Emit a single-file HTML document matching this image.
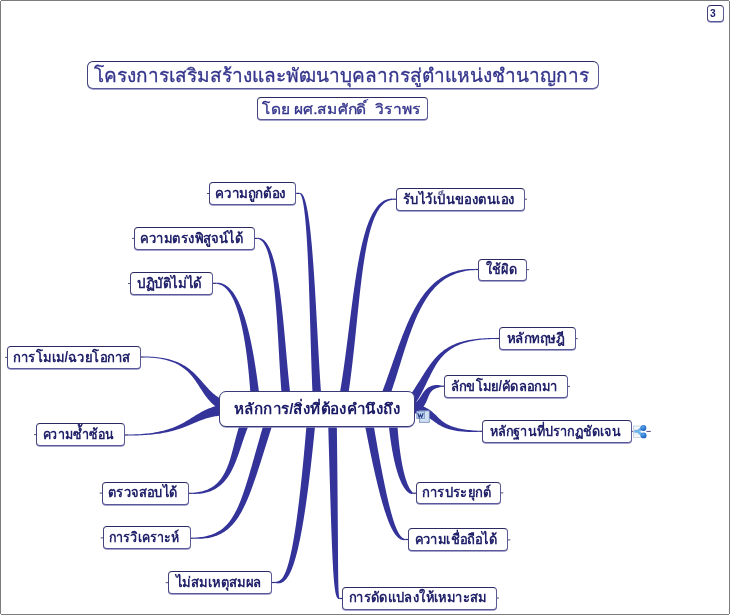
<!DOCTYPE html>
<html><head><meta charset="utf-8"><style>
html,body{margin:0;padding:0;background:#fff;}
body{width:730px;height:615px;position:relative;overflow:hidden;font-family:"Liberation Sans",sans-serif;}
.fr{position:absolute;background:#7c7c7c;}
svg{position:absolute;left:0;top:0;}
.n,.c,.h,.s,.k{position:absolute;box-sizing:border-box;background:#fff;border:1px solid #43437a;border-top-color:#2a2a60;border-right-color:#5a5a92;border-bottom-color:#58589a;border-radius:4px;box-shadow:0 0.7px 0 #8888bb;}
.c{border-radius:7px;border-color:#3a3a7a;}
.h{border-radius:6px;}
.tx text{font-family:"Liberation Sans",sans-serif;white-space:pre;}
</style></head><body>
<div class="fr" style="left:1px;top:0;width:728px;height:1px"></div><div class="fr" style="left:0;top:1px;width:1px;height:613px"></div><div class="fr" style="left:729px;top:1px;width:1px;height:613px"></div><div class="fr" style="left:1px;top:614px;width:728px;height:1px"></div>
<svg width="730" height="615" viewBox="0 0 730 615">
<g fill="#333399"><path d="M216.48,283.80 L217.63,283.96 L218.73,284.19 L219.78,284.50 L220.81,284.89 L221.80,285.37 L222.77,285.93 L223.71,286.56 L224.63,287.28 L225.53,288.06 L226.41,288.93 L227.26,289.87 L228.10,290.88 L228.92,291.96 L229.72,293.11 L230.50,294.33 L231.26,295.61 L232.00,296.96 L232.73,298.36 L233.44,299.83 L234.13,301.35 L234.80,302.93 L235.45,304.56 L236.09,306.24 L236.71,307.96 L237.31,309.74 L237.90,311.55 L238.47,313.40 L239.02,315.30 L239.56,317.23 L240.08,319.19 L240.58,321.18 L241.07,323.20 L241.55,325.25 L242.00,327.32 L242.45,329.41 L242.88,331.52 L243.29,333.65 L243.69,335.79 L244.08,337.95 L244.45,340.11 L244.82,342.28 L245.16,344.45 L245.50,346.63 L245.82,348.81 L246.13,350.98 L246.43,353.15 L246.71,355.32 L246.99,357.47 L247.25,359.61 L247.51,361.74 L247.75,363.85 L247.98,365.94 L248.20,368.01 L248.41,370.05 L248.62,372.07 L248.81,374.06 L249.00,376.02 L249.17,377.95 L249.34,379.84 L249.50,381.69 L249.65,383.50 L249.80,385.27 L249.94,387.00 L250.07,388.68 L250.19,390.31 L250.33,391.88 L250.46,393.40 L250.58,394.87 L250.70,396.28 L250.81,397.62 L250.92,398.91 L251.03,400.13 L251.13,401.28 L251.22,402.37 L251.32,403.39 L251.41,404.34 L251.50,405.22 L251.58,406.04 L251.67,406.74 L260.92,405.26 L260.78,404.62 L260.65,403.93 L260.51,403.14 L260.37,402.26 L260.22,401.30 L260.07,400.25 L259.91,399.13 L259.75,397.94 L259.58,396.68 L259.40,395.35 L259.22,393.95 L259.04,392.50 L258.85,390.98 L258.65,389.41 L258.43,387.78 L258.20,386.11 L257.96,384.38 L257.72,382.61 L257.47,380.80 L257.20,378.94 L256.94,377.04 L256.66,375.11 L256.37,373.14 L256.08,371.14 L255.77,369.12 L255.45,367.06 L255.13,364.98 L254.79,362.88 L254.44,360.76 L254.09,358.62 L253.72,356.46 L253.34,354.29 L252.94,352.12 L252.54,349.93 L252.12,347.74 L251.69,345.55 L251.24,343.35 L250.79,341.16 L250.32,338.97 L249.83,336.79 L249.33,334.62 L248.82,332.45 L248.29,330.30 L247.74,328.17 L247.18,326.06 L246.61,323.96 L246.01,321.89 L245.40,319.85 L244.78,317.83 L244.13,315.85 L243.47,313.89 L242.80,311.97 L242.10,310.09 L241.38,308.25 L240.65,306.45 L239.89,304.69 L239.12,302.99 L238.33,301.33 L237.51,299.72 L236.68,298.17 L235.82,296.68 L234.94,295.24 L234.04,293.87 L233.11,292.56 L232.17,291.32 L231.19,290.15 L230.20,289.05 L229.18,288.03 L228.14,287.08 L227.07,286.22 L225.97,285.45 L224.86,284.77 L223.72,284.18 L222.56,283.68 L221.38,283.29 L220.18,283.00 L218.96,282.82 L217.74,282.74 L216.52,282.80Z"/><path d="M257.57,238.90 L258.37,239.05 L259.11,239.26 L259.81,239.56 L260.48,239.93 L261.13,240.39 L261.76,240.93 L262.38,241.55 L262.99,242.26 L263.57,243.05 L264.15,243.92 L264.71,244.88 L265.26,245.92 L265.80,247.04 L266.32,248.24 L266.82,249.51 L267.32,250.87 L267.80,252.29 L268.26,253.79 L268.71,255.36 L269.15,256.99 L269.58,258.69 L269.99,260.46 L270.39,262.29 L270.78,264.18 L271.15,266.13 L271.51,268.13 L271.86,270.19 L272.20,272.30 L272.53,274.47 L272.85,276.68 L273.16,278.94 L273.45,281.25 L273.74,283.60 L274.02,285.99 L274.29,288.42 L274.55,290.89 L274.80,293.39 L275.05,295.93 L275.29,298.51 L275.52,301.11 L275.74,303.74 L275.96,306.40 L276.17,309.08 L276.37,311.78 L276.57,314.51 L276.77,317.26 L276.96,320.02 L277.14,322.80 L277.32,325.59 L277.50,328.39 L277.67,331.21 L277.85,334.03 L278.01,336.86 L278.18,339.69 L278.35,342.52 L278.51,345.36 L278.67,348.19 L278.84,351.02 L279.00,353.85 L279.16,356.67 L279.32,359.48 L279.48,362.28 L279.65,365.07 L279.81,367.85 L279.98,370.60 L280.15,373.34 L280.32,376.07 L280.50,378.77 L280.68,381.44 L280.86,384.09 L281.05,386.72 L281.24,389.32 L281.45,391.88 L281.67,394.41 L281.89,396.91 L282.12,399.38 L282.36,401.80 L282.60,404.19 L282.85,406.52 L291.66,405.48 L291.36,403.17 L291.06,400.83 L290.78,398.45 L290.49,396.03 L290.22,393.57 L289.95,391.07 L289.68,388.54 L289.40,385.97 L289.12,383.38 L288.85,380.75 L288.59,378.10 L288.32,375.42 L288.06,372.72 L287.81,370.00 L287.55,367.25 L287.29,364.49 L287.04,361.72 L286.79,358.93 L286.54,356.13 L286.28,353.32 L286.03,350.50 L285.78,347.67 L285.52,344.84 L285.27,342.01 L285.01,339.18 L284.75,336.35 L284.49,333.52 L284.23,330.70 L283.96,327.88 L283.69,325.07 L283.41,322.28 L283.13,319.50 L282.85,316.73 L282.56,313.98 L282.26,311.24 L281.96,308.53 L281.65,305.84 L281.34,303.17 L281.02,300.53 L280.69,297.92 L280.35,295.33 L280.01,292.78 L279.66,290.26 L279.30,287.78 L278.92,285.33 L278.54,282.92 L278.15,280.56 L277.75,278.23 L277.34,275.95 L276.92,273.72 L276.48,271.53 L276.03,269.40 L275.57,267.31 L275.10,265.28 L274.61,263.31 L274.11,261.39 L273.60,259.54 L273.07,257.74 L272.53,256.01 L271.97,254.34 L271.39,252.74 L270.80,251.20 L270.18,249.74 L269.56,248.35 L268.91,247.03 L268.24,245.79 L267.55,244.63 L266.84,243.55 L266.11,242.55 L265.36,241.64 L264.58,240.81 L263.78,240.08 L262.95,239.44 L262.10,238.91 L261.23,238.47 L260.34,238.15 L259.43,237.95 L258.52,237.86 L257.63,237.90Z"/><path d="M299.64,193.80 L299.99,193.97 L300.25,194.20 L300.52,194.52 L300.81,194.97 L301.11,195.54 L301.41,196.24 L301.71,197.07 L302.01,198.02 L302.30,199.10 L302.59,200.29 L302.88,201.60 L303.16,203.02 L303.43,204.55 L303.69,206.18 L303.95,207.92 L304.21,209.76 L304.45,211.70 L304.69,213.73 L304.93,215.85 L305.16,218.06 L305.38,220.36 L305.59,222.74 L305.80,225.20 L306.01,227.74 L306.21,230.35 L306.40,233.04 L306.59,235.79 L306.77,238.62 L306.95,241.50 L307.12,244.45 L307.29,247.45 L307.45,250.51 L307.61,253.62 L307.77,256.79 L307.92,260.00 L308.07,263.25 L308.21,266.55 L308.35,269.88 L308.49,273.25 L308.62,276.66 L308.75,280.09 L308.88,283.56 L309.00,287.05 L309.12,290.56 L309.24,294.09 L309.36,297.64 L309.48,301.20 L309.59,304.77 L309.70,308.35 L309.82,311.94 L309.93,315.53 L310.03,319.13 L310.14,322.72 L310.25,326.30 L310.35,329.88 L310.46,333.44 L310.56,337.00 L310.67,340.54 L310.77,344.05 L310.88,347.55 L310.98,351.03 L311.09,354.47 L311.20,357.89 L311.31,361.27 L311.41,364.62 L311.52,367.93 L311.64,371.21 L311.75,374.43 L311.86,377.62 L311.98,380.75 L312.10,383.83 L312.22,386.86 L312.35,389.83 L312.48,392.75 L312.63,395.60 L312.77,398.38 L312.92,401.10 L313.08,403.75 L313.23,406.31 L322.01,405.69 L321.80,403.14 L321.60,400.52 L321.39,397.83 L321.19,395.07 L321.00,392.24 L320.79,389.35 L320.59,386.40 L320.38,383.39 L320.18,380.33 L319.98,377.21 L319.78,374.04 L319.58,370.83 L319.38,367.57 L319.19,364.27 L318.99,360.93 L318.80,357.55 L318.61,354.14 L318.41,350.70 L318.22,347.24 L318.03,343.75 L317.84,340.23 L317.64,336.70 L317.45,333.15 L317.26,329.59 L317.06,326.01 L316.86,322.43 L316.67,318.84 L316.47,315.25 L316.27,311.66 L316.07,308.08 L315.86,304.49 L315.66,300.92 L315.45,297.36 L315.24,293.81 L315.03,290.28 L314.81,286.76 L314.59,283.27 L314.37,279.81 L314.15,276.37 L313.92,272.96 L313.69,269.59 L313.45,266.25 L313.21,262.95 L312.96,259.69 L312.71,256.47 L312.46,253.30 L312.20,250.19 L311.94,247.12 L311.67,244.11 L311.39,241.16 L311.11,238.26 L310.83,235.43 L310.54,232.67 L310.24,229.98 L309.93,227.35 L309.62,224.80 L309.31,222.33 L308.98,219.94 L308.65,217.63 L308.31,215.41 L307.96,213.27 L307.61,211.22 L307.24,209.27 L306.87,207.41 L306.49,205.65 L306.10,203.99 L305.70,202.44 L305.29,200.99 L304.87,199.65 L304.43,198.42 L303.99,197.31 L303.53,196.31 L303.05,195.42 L302.56,194.66 L302.04,194.03 L301.50,193.52 L300.91,193.16 L300.30,192.97 L299.76,193.00Z"/><path d="M392.98,198.70 L391.60,198.61 L390.21,198.68 L388.85,198.88 L387.50,199.20 L386.19,199.64 L384.90,200.20 L383.65,200.87 L382.42,201.65 L381.23,202.53 L380.07,203.52 L378.94,204.60 L377.85,205.78 L376.79,207.06 L375.75,208.42 L374.75,209.88 L373.78,211.42 L372.84,213.04 L371.92,214.75 L371.04,216.54 L370.17,218.40 L369.33,220.34 L368.52,222.36 L367.73,224.45 L366.96,226.61 L366.21,228.84 L365.49,231.13 L364.78,233.50 L364.09,235.92 L363.42,238.41 L362.77,240.96 L362.13,243.57 L361.51,246.24 L360.91,248.96 L360.32,251.74 L359.74,254.57 L359.18,257.45 L358.63,260.38 L358.09,263.36 L357.56,266.38 L357.04,269.45 L356.53,272.56 L356.04,275.71 L355.55,278.90 L355.06,282.12 L354.59,285.38 L354.12,288.68 L353.65,292.01 L353.19,295.37 L352.74,298.75 L352.28,302.17 L351.84,305.61 L351.39,309.07 L350.94,312.55 L350.50,316.06 L350.05,319.58 L349.61,323.12 L349.16,326.68 L348.71,330.25 L348.26,333.83 L347.81,337.42 L347.35,341.02 L346.89,344.62 L346.42,348.23 L345.95,351.85 L345.47,355.46 L344.98,359.08 L344.48,362.69 L343.98,366.30 L343.47,369.90 L342.94,373.49 L342.41,377.08 L341.86,380.65 L341.31,384.22 L340.74,387.76 L340.16,391.30 L339.58,394.81 L338.98,398.31 L338.36,401.78 L337.73,405.25 L346.34,406.75 L346.92,403.25 L347.49,399.73 L348.04,396.18 L348.58,392.61 L349.10,389.03 L349.60,385.44 L350.09,381.83 L350.56,378.22 L351.02,374.59 L351.47,370.96 L351.91,367.33 L352.34,363.69 L352.76,360.05 L353.17,356.41 L353.58,352.77 L353.97,349.14 L354.37,345.51 L354.75,341.88 L355.13,338.27 L355.51,334.66 L355.88,331.07 L356.25,327.49 L356.61,323.92 L356.98,320.38 L357.34,316.85 L357.70,313.34 L358.07,309.85 L358.43,306.38 L358.80,302.94 L359.16,299.53 L359.53,296.15 L359.91,292.79 L360.29,289.47 L360.67,286.18 L361.06,282.93 L361.45,279.71 L361.85,276.53 L362.26,273.40 L362.68,270.30 L363.11,267.25 L363.54,264.24 L363.99,261.29 L364.44,258.38 L364.91,255.52 L365.39,252.71 L365.88,249.96 L366.38,247.26 L366.90,244.62 L367.43,242.04 L367.98,239.52 L368.54,237.06 L369.12,234.67 L369.72,232.34 L370.33,230.08 L370.96,227.89 L371.61,225.78 L372.28,223.73 L372.97,221.76 L373.68,219.86 L374.40,218.05 L375.15,216.31 L375.92,214.65 L376.71,213.07 L377.53,211.58 L378.36,210.17 L379.22,208.85 L380.10,207.62 L381.01,206.47 L381.93,205.42 L382.89,204.45 L383.87,203.57 L384.88,202.78 L385.92,202.07 L387.00,201.46 L388.11,200.94 L389.26,200.50 L390.46,200.16 L391.70,199.90 L393.02,199.70Z"/><path d="M475.19,269.00 L472.89,268.94 L470.63,268.96 L468.42,269.06 L466.25,269.24 L464.12,269.48 L462.03,269.79 L459.99,270.17 L457.99,270.62 L456.03,271.13 L454.10,271.71 L452.22,272.35 L450.38,273.05 L448.57,273.82 L446.80,274.64 L445.07,275.53 L443.38,276.48 L441.72,277.48 L440.10,278.54 L438.51,279.65 L436.96,280.82 L435.44,282.04 L433.96,283.32 L432.51,284.64 L431.09,286.01 L429.70,287.43 L428.34,288.90 L427.01,290.41 L425.71,291.97 L424.44,293.57 L423.20,295.22 L421.98,296.90 L420.79,298.62 L419.62,300.38 L418.48,302.18 L417.36,304.01 L416.26,305.88 L415.18,307.79 L414.12,309.72 L413.09,311.69 L412.07,313.69 L411.06,315.72 L410.08,317.77 L409.11,319.86 L408.16,321.97 L407.21,324.10 L406.29,326.26 L405.37,328.45 L404.47,330.65 L403.57,332.88 L402.69,335.12 L401.81,337.39 L400.94,339.67 L400.08,341.97 L399.23,344.29 L398.38,346.62 L397.53,348.96 L396.69,351.32 L395.84,353.69 L395.01,356.07 L394.17,358.46 L393.33,360.86 L392.49,363.26 L391.65,365.67 L390.80,368.09 L389.95,370.52 L389.10,372.94 L388.24,375.37 L387.37,377.80 L386.50,380.23 L385.62,382.66 L384.73,385.09 L383.84,387.51 L382.93,389.93 L382.03,392.36 L381.11,394.77 L380.18,397.18 L379.24,399.58 L378.28,401.97 L377.30,404.37 L385.53,407.63 L386.47,405.18 L387.39,402.72 L388.31,400.24 L389.20,397.77 L390.08,395.29 L390.95,392.81 L391.79,390.33 L392.62,387.84 L393.44,385.35 L394.24,382.87 L395.04,380.39 L395.82,377.91 L396.60,375.44 L397.38,372.98 L398.14,370.52 L398.90,368.07 L399.66,365.63 L400.42,363.19 L401.17,360.77 L401.92,358.36 L402.67,355.97 L403.42,353.58 L404.17,351.21 L404.92,348.86 L405.68,346.52 L406.44,344.20 L407.20,341.90 L407.97,339.62 L408.75,337.35 L409.53,335.11 L410.32,332.90 L411.12,330.70 L411.93,328.53 L412.75,326.38 L413.59,324.26 L414.43,322.17 L415.29,320.10 L416.16,318.07 L417.05,316.06 L417.95,314.08 L418.87,312.14 L419.80,310.23 L420.76,308.35 L421.73,306.50 L422.72,304.69 L423.73,302.92 L424.77,301.18 L425.83,299.48 L426.91,297.82 L428.01,296.20 L429.14,294.62 L430.30,293.09 L431.48,291.59 L432.69,290.13 L433.93,288.72 L435.20,287.36 L436.50,286.03 L437.83,284.76 L439.19,283.53 L440.59,282.34 L442.02,281.21 L443.49,280.12 L445.00,279.09 L446.55,278.10 L448.13,277.17 L449.76,276.28 L451.43,275.46 L453.14,274.68 L454.90,273.96 L456.70,273.30 L458.56,272.69 L460.46,272.14 L462.41,271.66 L464.41,271.23 L466.46,270.86 L468.56,270.56 L470.72,270.31 L472.93,270.13 L475.21,270.00Z"/><path d="M496.10,338.00 L493.68,338.01 L491.33,338.04 L489.03,338.09 L486.80,338.17 L484.63,338.28 L482.52,338.41 L480.46,338.57 L478.46,338.75 L476.51,338.95 L474.62,339.18 L472.78,339.44 L470.99,339.72 L469.24,340.02 L467.55,340.35 L465.90,340.71 L464.30,341.09 L462.74,341.49 L461.22,341.91 L459.75,342.36 L458.31,342.84 L456.91,343.34 L455.55,343.86 L454.23,344.41 L452.94,344.97 L451.69,345.57 L450.47,346.18 L449.28,346.82 L448.12,347.49 L446.99,348.17 L445.88,348.88 L444.81,349.61 L443.76,350.36 L442.74,351.13 L441.74,351.93 L440.77,352.75 L439.81,353.58 L438.88,354.44 L437.97,355.32 L437.08,356.21 L436.21,357.13 L435.35,358.06 L434.51,359.01 L433.69,359.98 L432.88,360.97 L432.08,361.97 L431.29,362.99 L430.51,364.03 L429.74,365.08 L428.99,366.14 L428.23,367.22 L427.49,368.31 L426.74,369.42 L426.00,370.54 L425.27,371.67 L424.53,372.81 L423.79,373.97 L423.06,375.14 L422.32,376.32 L421.57,377.51 L420.82,378.70 L420.07,379.91 L419.31,381.13 L418.54,382.36 L417.76,383.60 L416.97,384.85 L416.17,386.10 L415.35,387.36 L414.52,388.63 L413.68,389.91 L412.85,391.21 L412.02,392.53 L411.16,393.86 L410.29,395.20 L409.40,396.54 L408.49,397.89 L407.55,399.25 L406.59,400.61 L405.61,401.98 L404.58,403.38 L411.96,408.62 L412.97,407.15 L413.96,405.67 L414.93,404.20 L415.86,402.74 L416.77,401.29 L417.66,399.85 L418.52,398.43 L419.35,397.01 L420.17,395.61 L420.95,394.21 L421.68,392.81 L422.39,391.42 L423.09,390.04 L423.77,388.68 L424.43,387.34 L425.09,386.01 L425.73,384.69 L426.36,383.39 L426.98,382.11 L427.60,380.84 L428.21,379.59 L428.81,378.35 L429.41,377.13 L430.01,375.92 L430.60,374.74 L431.20,373.57 L431.79,372.41 L432.39,371.27 L432.99,370.15 L433.60,369.05 L434.21,367.96 L434.83,366.90 L435.46,365.84 L436.10,364.81 L436.75,363.79 L437.41,362.79 L438.08,361.81 L438.77,360.85 L439.48,359.90 L440.20,358.97 L440.94,358.06 L441.70,357.17 L442.49,356.29 L443.29,355.43 L444.12,354.59 L444.98,353.77 L445.86,352.97 L446.78,352.19 L447.72,351.42 L448.69,350.67 L449.70,349.95 L450.73,349.24 L451.81,348.55 L452.92,347.88 L454.07,347.24 L455.26,346.61 L456.49,346.01 L457.76,345.42 L459.07,344.86 L460.43,344.33 L461.83,343.81 L463.28,343.32 L464.78,342.85 L466.33,342.41 L467.92,341.99 L469.57,341.60 L471.27,341.23 L473.02,340.89 L474.83,340.58 L476.69,340.29 L478.60,340.03 L480.58,339.80 L482.61,339.60 L484.70,339.42 L486.86,339.28 L489.07,339.16 L491.35,339.07 L493.69,339.02 L496.10,339.00Z"/><path d="M440.99,385.60 L440.13,385.28 L439.29,385.14 L438.47,385.06 L437.67,385.02 L436.89,385.01 L436.14,385.03 L435.41,385.08 L434.69,385.16 L434.00,385.26 L433.33,385.39 L432.67,385.55 L432.04,385.73 L431.42,385.93 L430.82,386.15 L430.24,386.40 L429.68,386.67 L429.13,386.96 L428.61,387.27 L428.10,387.60 L427.61,387.95 L427.14,388.31 L426.69,388.69 L426.26,389.08 L425.84,389.47 L425.44,389.88 L425.06,390.30 L424.69,390.73 L424.33,391.16 L423.98,391.59 L423.65,392.03 L423.33,392.47 L423.02,392.91 L422.72,393.36 L422.42,393.80 L422.13,394.24 L421.85,394.68 L421.57,395.11 L421.30,395.54 L421.03,395.97 L420.76,396.39 L420.49,396.81 L420.23,397.22 L419.96,397.62 L419.69,398.02 L419.43,398.40 L419.16,398.78 L418.88,399.15 L418.61,399.51 L418.33,399.85 L418.05,400.19 L417.76,400.52 L417.47,400.84 L417.17,401.14 L416.87,401.44 L416.56,401.73 L416.24,402.00 L415.91,402.27 L415.58,402.53 L415.23,402.77 L414.87,403.01 L414.49,403.25 L414.11,403.47 L413.71,403.69 L413.29,403.90 L412.84,404.11 L412.38,404.31 L411.89,404.50 L411.38,404.68 L410.84,404.85 L410.27,405.01 L409.67,405.16 L409.04,405.31 L408.37,405.44 L407.67,405.55 L406.94,405.66 L406.17,405.75 L405.35,405.83 L404.50,405.89 L403.56,405.94 L404.44,416.06 L405.50,415.93 L406.58,415.78 L407.63,415.61 L408.64,415.41 L409.63,415.19 L410.58,414.95 L411.50,414.69 L412.39,414.41 L413.26,414.10 L414.09,413.78 L414.90,413.44 L415.67,413.07 L416.42,412.69 L417.14,412.29 L417.84,411.88 L418.50,411.44 L419.14,410.99 L419.74,410.53 L420.32,410.05 L420.87,409.56 L421.39,409.06 L421.89,408.55 L422.36,408.03 L422.80,407.51 L423.22,406.98 L423.62,406.45 L423.99,405.92 L424.35,405.39 L424.68,404.85 L424.99,404.32 L425.29,403.79 L425.57,403.27 L425.84,402.74 L426.09,402.22 L426.33,401.71 L426.56,401.20 L426.78,400.70 L426.99,400.21 L427.19,399.72 L427.39,399.24 L427.58,398.77 L427.76,398.30 L427.95,397.84 L428.13,397.40 L428.31,396.96 L428.48,396.53 L428.66,396.11 L428.84,395.69 L429.02,395.29 L429.20,394.90 L429.39,394.52 L429.58,394.15 L429.77,393.78 L429.97,393.43 L430.18,393.09 L430.40,392.75 L430.62,392.42 L430.85,392.10 L431.10,391.79 L431.36,391.48 L431.63,391.18 L431.92,390.89 L432.23,390.60 L432.55,390.32 L432.90,390.05 L433.28,389.78 L433.68,389.52 L434.10,389.27 L434.56,389.02 L435.04,388.78 L435.56,388.55 L436.11,388.33 L436.70,388.12 L437.32,387.91 L437.98,387.72 L438.67,387.53 L439.41,387.34 L440.18,387.14 L441.01,386.80Z"/><path d="M479.10,430.80 L477.06,430.68 L475.10,430.57 L473.21,430.43 L471.39,430.28 L469.63,430.12 L467.94,429.93 L466.31,429.73 L464.75,429.51 L463.24,429.27 L461.80,429.02 L460.42,428.75 L459.09,428.47 L457.81,428.17 L456.59,427.86 L455.42,427.54 L454.30,427.20 L453.23,426.85 L452.21,426.50 L451.23,426.13 L450.29,425.75 L449.39,425.37 L448.54,424.97 L447.72,424.57 L446.94,424.16 L446.19,423.75 L445.48,423.33 L444.79,422.90 L444.14,422.47 L443.50,422.03 L442.90,421.59 L442.31,421.15 L441.75,420.70 L441.20,420.25 L440.67,419.80 L440.15,419.34 L439.64,418.88 L439.15,418.42 L438.66,417.95 L438.17,417.48 L437.69,417.01 L437.21,416.53 L436.74,416.05 L436.26,415.57 L435.77,415.09 L435.28,414.61 L434.78,414.13 L434.27,413.64 L433.75,413.16 L433.21,412.68 L432.66,412.19 L432.10,411.72 L431.51,411.24 L430.90,410.77 L430.27,410.31 L429.61,409.85 L428.93,409.41 L428.23,408.97 L427.49,408.54 L426.73,408.13 L425.94,407.73 L425.12,407.34 L424.26,406.97 L423.37,406.62 L422.45,406.28 L421.50,405.96 L420.51,405.67 L419.48,405.39 L418.42,405.13 L417.31,404.91 L416.17,404.71 L414.98,404.53 L413.75,404.37 L412.48,404.24 L411.17,404.12 L409.81,404.04 L408.40,403.97 L406.94,403.93 L405.42,403.91 L403.89,403.91 L404.11,413.09 L405.57,413.02 L406.93,412.98 L408.24,412.96 L409.49,412.97 L410.69,412.99 L411.84,413.03 L412.94,413.10 L413.99,413.17 L414.99,413.27 L415.95,413.38 L416.86,413.51 L417.73,413.65 L418.57,413.79 L419.37,413.94 L420.14,414.11 L420.87,414.29 L421.58,414.48 L422.26,414.68 L422.91,414.89 L423.55,415.12 L424.16,415.35 L424.75,415.60 L425.33,415.86 L425.90,416.13 L426.45,416.41 L427.00,416.70 L427.53,417.01 L428.06,417.32 L428.59,417.65 L429.12,417.98 L429.64,418.33 L430.16,418.69 L430.69,419.05 L431.21,419.43 L431.74,419.82 L432.28,420.21 L432.82,420.61 L433.38,421.02 L433.94,421.43 L434.51,421.84 L435.09,422.26 L435.69,422.69 L436.30,423.11 L436.93,423.53 L437.57,423.96 L438.24,424.38 L438.92,424.79 L439.62,425.21 L440.35,425.61 L441.09,426.01 L441.87,426.41 L442.67,426.79 L443.49,427.17 L444.34,427.54 L445.23,427.90 L446.14,428.24 L447.08,428.58 L448.06,428.90 L449.08,429.21 L450.12,429.50 L451.21,429.79 L452.34,430.05 L453.51,430.30 L454.72,430.54 L455.97,430.76 L457.27,430.97 L458.62,431.15 L460.01,431.32 L461.46,431.47 L462.96,431.60 L464.51,431.72 L466.12,431.81 L467.79,431.88 L469.52,431.93 L471.30,431.96 L473.15,431.96 L475.07,431.94 L477.05,431.89 L479.10,431.80Z"/><path d="M143.80,357.50 L146.17,357.52 L148.46,357.59 L150.69,357.71 L152.84,357.86 L154.92,358.05 L156.94,358.29 L158.89,358.56 L160.77,358.87 L162.59,359.21 L164.35,359.59 L166.04,360.00 L167.68,360.45 L169.26,360.92 L170.79,361.43 L172.26,361.96 L173.67,362.52 L175.04,363.11 L176.35,363.73 L177.62,364.37 L178.84,365.03 L180.01,365.72 L181.15,366.42 L182.24,367.15 L183.29,367.89 L184.30,368.66 L185.27,369.44 L186.21,370.23 L187.12,371.05 L188.00,371.87 L188.84,372.71 L189.66,373.57 L190.46,374.43 L191.23,375.31 L191.98,376.20 L192.70,377.10 L193.41,378.00 L194.10,378.92 L194.78,379.84 L195.44,380.77 L196.10,381.71 L196.74,382.65 L197.37,383.60 L198.00,384.55 L198.62,385.51 L199.25,386.47 L199.87,387.44 L200.49,388.40 L201.11,389.37 L201.74,390.34 L202.38,391.31 L203.02,392.28 L203.68,393.24 L204.35,394.21 L205.03,395.17 L205.73,396.13 L206.45,397.09 L207.20,398.04 L207.96,398.98 L208.75,399.92 L209.57,400.85 L210.42,401.77 L211.30,402.68 L212.22,403.58 L213.17,404.46 L214.16,405.33 L215.19,406.18 L216.26,407.01 L217.41,407.76 L218.60,408.48 L219.84,409.18 L221.11,409.84 L222.43,410.48 L223.80,411.08 L225.21,411.66 L226.66,412.20 L228.16,412.70 L229.72,413.17 L231.32,413.61 L232.89,413.99 L235.11,404.01 L233.65,403.72 L232.32,403.42 L231.04,403.09 L229.81,402.73 L228.62,402.34 L227.47,401.94 L226.37,401.50 L225.30,401.05 L224.27,400.57 L223.27,400.07 L222.30,399.55 L221.37,399.00 L220.41,398.50 L219.48,397.98 L218.57,397.43 L217.68,396.85 L216.80,396.26 L215.94,395.64 L215.10,395.00 L214.27,394.33 L213.45,393.65 L212.65,392.94 L211.86,392.22 L211.07,391.48 L210.29,390.72 L209.53,389.94 L208.76,389.15 L208.01,388.34 L207.25,387.52 L206.50,386.69 L205.75,385.85 L205.00,385.00 L204.25,384.14 L203.50,383.27 L202.75,382.40 L201.99,381.53 L201.22,380.65 L200.44,379.77 L199.66,378.89 L198.86,378.02 L198.06,377.14 L197.23,376.27 L196.40,375.40 L195.55,374.54 L194.68,373.69 L193.79,372.85 L192.88,372.01 L191.94,371.19 L190.99,370.38 L190.00,369.58 L189.00,368.80 L187.96,368.03 L186.89,367.28 L185.80,366.54 L184.67,365.83 L183.51,365.13 L182.31,364.46 L181.08,363.81 L179.80,363.18 L178.49,362.57 L177.14,361.99 L175.74,361.43 L174.30,360.90 L172.81,360.39 L171.28,359.91 L169.69,359.46 L168.06,359.04 L166.37,358.64 L164.62,358.28 L162.82,357.95 L160.97,357.65 L159.05,357.39 L157.07,357.15 L155.03,356.95 L152.92,356.79 L150.74,356.66 L148.50,356.57 L146.19,356.52 L143.80,356.50Z"/><path d="M128.10,435.50 L130.59,435.50 L133.02,435.48 L135.37,435.44 L137.67,435.38 L139.90,435.31 L142.07,435.21 L144.18,435.10 L146.23,434.98 L148.23,434.83 L150.17,434.67 L152.06,434.49 L153.90,434.30 L155.68,434.09 L157.42,433.87 L159.11,433.63 L160.76,433.38 L162.36,433.11 L163.92,432.84 L165.44,432.55 L166.93,432.24 L168.37,431.93 L169.78,431.61 L171.15,431.27 L172.49,430.93 L173.80,430.58 L175.07,430.21 L176.32,429.84 L177.54,429.47 L178.74,429.08 L179.91,428.69 L181.06,428.29 L182.18,427.89 L183.29,427.49 L184.37,427.08 L185.44,426.67 L186.49,426.25 L187.52,425.83 L188.54,425.42 L189.55,425.00 L190.54,424.58 L191.53,424.17 L192.50,423.75 L193.47,423.34 L194.43,422.94 L195.38,422.53 L196.33,422.14 L197.27,421.75 L198.22,421.36 L199.16,420.98 L200.10,420.61 L201.04,420.25 L201.99,419.90 L202.94,419.55 L203.90,419.22 L204.86,418.90 L205.83,418.58 L206.81,418.28 L207.80,417.99 L208.81,417.71 L209.83,417.45 L210.86,417.19 L211.91,416.95 L212.99,416.73 L214.08,416.52 L215.20,416.32 L216.34,416.13 L217.50,415.96 L218.70,415.81 L219.92,415.67 L221.17,415.50 L222.45,415.32 L223.76,415.16 L225.12,415.02 L226.51,414.89 L227.95,414.78 L229.44,414.68 L230.97,414.61 L232.54,414.56 L234.21,414.52 L233.79,403.48 L232.05,403.57 L230.32,403.69 L228.63,403.83 L226.99,403.99 L225.39,404.18 L223.83,404.38 L222.31,404.61 L220.83,404.85 L219.39,405.12 L217.99,405.42 L216.63,405.80 L215.31,406.18 L214.02,406.59 L212.77,407.01 L211.55,407.44 L210.36,407.88 L209.20,408.34 L208.07,408.81 L206.96,409.29 L205.88,409.78 L204.83,410.28 L203.80,410.78 L202.79,411.30 L201.80,411.82 L200.83,412.34 L199.87,412.88 L198.93,413.41 L198.01,413.95 L197.09,414.49 L196.19,415.04 L195.29,415.59 L194.40,416.14 L193.52,416.69 L192.63,417.24 L191.75,417.79 L190.87,418.34 L189.98,418.89 L189.10,419.44 L188.20,419.98 L187.30,420.53 L186.39,421.07 L185.46,421.61 L184.53,422.14 L183.57,422.67 L182.60,423.20 L181.62,423.72 L180.61,424.24 L179.58,424.75 L178.53,425.26 L177.45,425.75 L176.34,426.25 L175.21,426.73 L174.04,427.20 L172.85,427.67 L171.62,428.13 L170.35,428.57 L169.05,429.01 L167.71,429.43 L166.33,429.85 L164.91,430.25 L163.44,430.63 L161.93,431.00 L160.38,431.36 L158.78,431.70 L157.13,432.03 L155.42,432.34 L153.67,432.63 L151.87,432.90 L150.01,433.16 L148.09,433.39 L146.12,433.61 L144.09,433.80 L141.99,433.98 L139.84,434.13 L137.62,434.25 L135.34,434.35 L133.00,434.43 L130.58,434.48 L128.10,434.50Z"/><path d="M191.91,493.80 L193.63,493.88 L195.32,493.90 L196.96,493.86 L198.57,493.77 L200.13,493.63 L201.65,493.44 L203.14,493.21 L204.58,492.93 L205.99,492.61 L207.36,492.24 L208.69,491.83 L209.99,491.38 L211.26,490.88 L212.49,490.35 L213.68,489.77 L214.84,489.15 L215.97,488.50 L217.07,487.80 L218.14,487.07 L219.17,486.30 L220.17,485.50 L221.14,484.66 L222.09,483.79 L223.00,482.89 L223.88,481.95 L224.74,480.99 L225.57,480.00 L226.37,478.99 L227.15,477.94 L227.91,476.88 L228.64,475.78 L229.34,474.67 L230.03,473.53 L230.69,472.38 L231.34,471.20 L231.97,470.01 L232.57,468.80 L233.16,467.57 L233.74,466.33 L234.30,465.07 L234.85,463.80 L235.38,462.52 L235.90,461.22 L236.41,459.92 L236.91,458.60 L237.40,457.27 L237.88,455.94 L238.36,454.60 L238.83,453.25 L239.29,451.90 L239.75,450.54 L240.21,449.18 L240.66,447.82 L241.11,446.45 L241.57,445.09 L242.02,443.72 L242.47,442.36 L242.92,440.99 L243.38,439.63 L243.84,438.28 L244.31,436.92 L244.78,435.58 L245.26,434.24 L245.74,432.90 L246.23,431.58 L246.73,430.26 L247.24,428.96 L247.75,427.65 L248.26,426.37 L248.79,425.09 L249.33,423.83 L249.88,422.58 L250.45,421.34 L251.03,420.12 L251.63,418.92 L252.25,417.74 L252.88,416.57 L253.53,415.43 L254.22,414.26 L246.17,409.74 L245.49,411.01 L244.81,412.34 L244.16,413.68 L243.53,415.03 L242.92,416.39 L242.34,417.75 L241.78,419.13 L241.23,420.51 L240.71,421.90 L240.20,423.29 L239.70,424.69 L239.23,426.09 L238.78,427.50 L238.34,428.91 L237.92,430.33 L237.51,431.74 L237.11,433.16 L236.72,434.58 L236.34,435.99 L235.96,437.40 L235.59,438.81 L235.23,440.22 L234.86,441.62 L234.50,443.02 L234.15,444.41 L233.79,445.80 L233.44,447.18 L233.08,448.55 L232.72,449.91 L232.36,451.27 L232.00,452.61 L231.63,453.95 L231.26,455.27 L230.88,456.58 L230.49,457.88 L230.10,459.16 L229.69,460.43 L229.28,461.69 L228.86,462.93 L228.42,464.15 L227.97,465.36 L227.51,466.55 L227.04,467.72 L226.55,468.87 L226.04,470.00 L225.52,471.11 L224.98,472.21 L224.42,473.28 L223.84,474.32 L223.25,475.35 L222.63,476.35 L221.99,477.33 L221.32,478.28 L220.63,479.21 L219.92,480.12 L219.18,481.00 L218.41,481.85 L217.61,482.68 L216.79,483.48 L215.93,484.26 L215.04,485.00 L214.11,485.72 L213.15,486.41 L212.15,487.06 L211.12,487.69 L210.04,488.29 L208.92,488.85 L207.77,489.38 L206.56,489.88 L205.32,490.34 L204.02,490.77 L202.68,491.16 L201.29,491.51 L199.86,491.82 L198.37,492.09 L196.83,492.32 L195.24,492.52 L193.60,492.67 L191.89,492.80Z"/><path d="M193.70,538.70 L195.48,538.78 L197.22,538.81 L198.93,538.79 L200.59,538.74 L202.22,538.65 L203.82,538.52 L205.38,538.36 L206.91,538.16 L208.41,537.91 L209.88,537.64 L211.31,537.32 L212.72,536.96 L214.10,536.56 L215.45,536.12 L216.77,535.64 L218.07,535.12 L219.34,534.56 L220.58,533.95 L221.80,533.31 L222.99,532.62 L224.17,531.89 L225.31,531.11 L226.43,530.29 L227.53,529.43 L228.61,528.53 L229.67,527.58 L230.70,526.59 L231.72,525.56 L232.71,524.49 L233.68,523.37 L234.64,522.21 L235.58,521.01 L236.50,519.76 L237.40,518.47 L238.29,517.14 L239.17,515.77 L240.03,514.35 L240.88,512.89 L241.71,511.39 L242.54,509.84 L243.36,508.26 L244.16,506.62 L244.96,504.95 L245.76,503.23 L246.54,501.46 L247.33,499.66 L248.10,497.80 L248.88,495.91 L249.65,493.96 L250.42,491.98 L251.19,489.94 L251.96,487.86 L252.73,485.74 L253.50,483.56 L254.28,481.35 L255.06,479.08 L255.84,476.77 L256.63,474.41 L257.43,472.00 L258.23,469.54 L259.05,467.03 L259.87,464.48 L260.70,461.88 L261.54,459.23 L262.40,456.52 L263.27,453.77 L264.15,450.97 L265.04,448.12 L265.95,445.21 L266.88,442.26 L267.83,439.26 L268.79,436.20 L269.77,433.09 L270.77,429.93 L271.78,426.71 L272.81,423.44 L273.86,420.12 L274.93,416.74 L276.03,413.30 L267.67,410.70 L266.62,414.16 L265.59,417.57 L264.59,420.92 L263.61,424.22 L262.66,427.47 L261.73,430.66 L260.83,433.81 L259.95,436.90 L259.09,439.93 L258.24,442.91 L257.42,445.84 L256.60,448.72 L255.81,451.55 L255.02,454.32 L254.25,457.04 L253.50,459.71 L252.75,462.33 L252.02,464.89 L251.30,467.41 L250.58,469.87 L249.88,472.29 L249.18,474.65 L248.49,476.97 L247.80,479.23 L247.12,481.45 L246.44,483.62 L245.77,485.74 L245.10,487.81 L244.43,489.83 L243.76,491.80 L243.10,493.73 L242.43,495.61 L241.76,497.44 L241.09,499.22 L240.41,500.96 L239.73,502.65 L239.05,504.30 L238.36,505.90 L237.66,507.45 L236.96,508.96 L236.25,510.42 L235.53,511.85 L234.80,513.22 L234.06,514.56 L233.31,515.85 L232.55,517.10 L231.77,518.30 L230.98,519.47 L230.18,520.59 L229.36,521.68 L228.52,522.72 L227.67,523.73 L226.79,524.69 L225.90,525.62 L224.99,526.52 L224.05,527.37 L223.09,528.19 L222.11,528.97 L221.10,529.72 L220.07,530.44 L219.00,531.12 L217.91,531.76 L216.78,532.37 L215.62,532.95 L214.43,533.50 L213.20,534.01 L211.94,534.48 L210.64,534.93 L209.31,535.34 L207.93,535.72 L206.52,536.06 L205.07,536.38 L203.57,536.66 L202.04,536.90 L200.46,537.12 L198.83,537.30 L197.17,537.46 L195.46,537.59 L193.70,537.70Z"/><path d="M275.10,583.00 L275.48,583.09 L275.86,583.17 L276.26,583.23 L276.66,583.29 L277.07,583.33 L277.49,583.36 L277.91,583.38 L278.35,583.37 L278.80,583.35 L279.27,583.31 L279.74,583.23 L280.22,583.13 L280.71,583.00 L281.20,582.83 L281.71,582.63 L282.21,582.39 L282.72,582.11 L283.24,581.79 L283.75,581.42 L284.27,581.02 L284.78,580.56 L285.30,580.07 L285.81,579.52 L286.32,578.92 L286.84,578.28 L287.35,577.58 L287.86,576.83 L288.37,576.02 L288.88,575.15 L289.39,574.23 L289.90,573.24 L290.41,572.19 L290.92,571.08 L291.43,569.89 L291.95,568.64 L292.46,567.31 L292.98,565.92 L293.49,564.44 L294.01,562.89 L294.53,561.26 L295.05,559.54 L295.57,557.74 L296.10,555.85 L296.62,553.88 L297.15,551.81 L297.68,549.65 L298.21,547.40 L298.74,545.05 L299.28,542.60 L299.82,540.04 L300.35,537.39 L300.90,534.62 L301.44,531.76 L301.98,528.78 L302.53,525.68 L303.08,522.48 L303.63,519.15 L304.19,515.71 L304.74,512.15 L305.30,508.47 L305.86,504.66 L306.42,500.72 L306.99,496.66 L307.56,492.46 L308.13,488.14 L308.70,483.67 L309.27,479.07 L309.85,474.33 L310.43,469.45 L311.01,464.42 L311.59,459.25 L312.17,453.93 L312.76,448.46 L313.35,442.84 L313.95,437.06 L314.54,431.13 L315.12,425.04 L315.71,418.79 L316.29,412.38 L307.67,411.62 L307.13,418.03 L306.60,424.27 L306.08,430.35 L305.57,436.27 L305.06,442.04 L304.55,447.65 L304.05,453.11 L303.55,458.42 L303.06,463.58 L302.56,468.59 L302.07,473.47 L301.58,478.19 L301.10,482.78 L300.61,487.23 L300.13,491.55 L299.65,495.73 L299.18,499.78 L298.70,503.70 L298.23,507.50 L297.76,511.16 L297.30,514.71 L296.84,518.13 L296.38,521.44 L295.92,524.63 L295.46,527.70 L295.01,530.66 L294.56,533.51 L294.11,536.25 L293.67,538.88 L293.23,541.41 L292.79,543.84 L292.35,546.16 L291.92,548.39 L291.49,550.52 L291.06,552.56 L290.64,554.50 L290.22,556.36 L289.80,558.12 L289.38,559.80 L288.97,561.40 L288.56,562.92 L288.16,564.35 L287.75,565.71 L287.35,566.99 L286.96,568.20 L286.57,569.33 L286.18,570.40 L285.80,571.40 L285.42,572.33 L285.04,573.20 L284.67,574.01 L284.30,574.76 L283.94,575.45 L283.59,576.09 L283.24,576.68 L282.89,577.22 L282.55,577.71 L282.22,578.16 L281.89,578.57 L281.56,578.94 L281.24,579.28 L280.93,579.59 L280.61,579.86 L280.30,580.11 L279.98,580.34 L279.66,580.54 L279.34,580.72 L279.02,580.89 L278.69,581.04 L278.36,581.17 L278.02,581.29 L277.67,581.40 L277.32,581.50 L276.96,581.59 L276.59,581.67 L276.22,581.75 L275.85,581.83 L275.48,581.91 L275.10,582.00Z"/><path d="M339.35,598.00 L339.27,597.90 L339.27,597.82 L339.27,597.74 L339.26,597.65 L339.25,597.53 L339.22,597.38 L339.18,597.19 L339.13,596.96 L339.08,596.68 L339.03,596.35 L338.98,595.98 L338.93,595.56 L338.88,595.10 L338.83,594.59 L338.78,594.03 L338.74,593.42 L338.69,592.75 L338.65,592.04 L338.61,591.28 L338.57,590.46 L338.53,589.59 L338.49,588.66 L338.46,587.68 L338.43,586.63 L338.39,585.54 L338.36,584.38 L338.34,583.16 L338.31,581.88 L338.28,580.55 L338.26,579.14 L338.23,577.68 L338.21,576.14 L338.19,574.55 L338.17,572.88 L338.15,571.15 L338.13,569.35 L338.11,567.48 L338.09,565.53 L338.07,563.52 L338.06,561.43 L338.04,559.27 L338.02,557.03 L338.00,554.72 L337.99,552.32 L337.97,549.86 L337.95,547.31 L337.93,544.68 L337.92,541.97 L337.90,539.17 L337.88,536.30 L337.86,533.34 L337.84,530.29 L337.82,527.16 L337.79,523.94 L337.77,520.63 L337.75,517.23 L337.72,513.74 L337.69,510.16 L337.66,506.48 L337.63,502.71 L337.60,498.85 L337.57,494.89 L337.53,490.84 L337.50,486.68 L337.46,482.43 L337.41,478.08 L337.37,473.62 L337.32,469.07 L337.28,464.41 L337.23,459.64 L337.17,454.77 L337.12,449.80 L337.06,444.72 L337.00,439.53 L336.93,434.23 L336.86,428.81 L336.77,423.29 L336.68,417.66 L336.59,411.91 L327.92,412.09 L328.06,417.84 L328.20,423.47 L328.34,428.99 L328.49,434.40 L328.64,439.69 L328.79,444.88 L328.93,449.96 L329.07,454.93 L329.21,459.80 L329.34,464.56 L329.48,469.22 L329.61,473.77 L329.74,478.23 L329.87,482.58 L329.99,486.83 L330.12,490.98 L330.24,495.04 L330.36,498.99 L330.48,502.85 L330.60,506.62 L330.71,510.30 L330.83,513.88 L330.94,517.37 L331.05,520.76 L331.17,524.07 L331.28,527.29 L331.39,530.43 L331.50,533.47 L331.61,536.44 L331.72,539.31 L331.83,542.11 L331.93,544.82 L332.04,547.45 L332.15,550.00 L332.26,552.47 L332.37,554.87 L332.48,557.18 L332.59,559.42 L332.70,561.59 L332.81,563.68 L332.92,565.70 L333.03,567.65 L333.14,569.53 L333.26,571.33 L333.37,573.07 L333.49,574.75 L333.61,576.35 L333.73,577.89 L333.85,579.37 L333.97,580.78 L334.09,582.13 L334.22,583.42 L334.35,584.65 L334.48,585.82 L334.61,586.93 L334.75,587.98 L334.88,588.98 L335.02,589.93 L335.17,590.82 L335.31,591.66 L335.46,592.45 L335.61,593.19 L335.77,593.88 L335.93,594.52 L336.09,595.12 L336.26,595.67 L336.44,596.18 L336.62,596.64 L336.80,597.06 L336.99,597.45 L337.20,597.80 L337.41,598.11 L337.63,598.38 L337.88,598.61 L338.14,598.81 L338.42,598.96 L338.72,599.05 L339.02,599.07 L339.25,599.00Z"/><path d="M405.21,539.00 L404.85,538.90 L404.50,538.79 L404.17,538.67 L403.84,538.54 L403.52,538.40 L403.20,538.23 L402.89,538.05 L402.59,537.85 L402.29,537.63 L401.98,537.39 L401.68,537.12 L401.38,536.84 L401.08,536.52 L400.77,536.19 L400.47,535.82 L400.16,535.42 L399.84,535.00 L399.53,534.54 L399.21,534.05 L398.89,533.52 L398.56,532.96 L398.23,532.37 L397.90,531.74 L397.57,531.07 L397.23,530.36 L396.88,529.61 L396.54,528.82 L396.19,527.98 L395.83,527.11 L395.47,526.19 L395.11,525.23 L394.74,524.22 L394.37,523.17 L394.00,522.07 L393.62,520.92 L393.24,519.73 L392.85,518.48 L392.46,517.19 L392.07,515.84 L391.67,514.45 L391.26,513.00 L390.85,511.50 L390.44,509.94 L390.02,508.33 L389.59,506.66 L389.16,504.94 L388.73,503.16 L388.29,501.32 L387.84,499.43 L387.39,497.47 L386.93,495.46 L386.47,493.38 L386.00,491.24 L385.53,489.04 L385.05,486.77 L384.56,484.44 L384.07,482.05 L383.57,479.59 L383.06,477.06 L382.54,474.46 L382.02,471.80 L381.50,469.07 L380.96,466.26 L380.42,463.39 L379.87,460.45 L379.31,457.43 L378.75,454.34 L378.18,451.17 L377.60,447.93 L377.01,444.62 L376.42,441.22 L375.81,437.76 L375.20,434.21 L374.58,430.58 L373.95,426.88 L373.30,423.09 L372.63,419.23 L371.96,415.28 L371.28,411.25 L362.69,412.75 L363.43,416.78 L364.15,420.73 L364.87,424.60 L365.58,428.39 L366.29,432.09 L367.00,435.72 L367.70,439.26 L368.39,442.73 L369.07,446.12 L369.75,449.44 L370.41,452.67 L371.07,455.84 L371.73,458.93 L372.37,461.95 L373.01,464.89 L373.64,467.77 L374.26,470.57 L374.88,473.31 L375.49,475.97 L376.10,478.57 L376.69,481.10 L377.29,483.56 L377.87,485.96 L378.45,488.29 L379.02,490.56 L379.59,492.77 L380.15,494.91 L380.71,497.00 L381.26,499.02 L381.81,500.98 L382.35,502.88 L382.89,504.73 L383.42,506.52 L383.95,508.25 L384.47,509.92 L384.99,511.54 L385.50,513.11 L386.01,514.62 L386.52,516.08 L387.02,517.49 L387.52,518.85 L388.02,520.16 L388.51,521.42 L389.00,522.63 L389.48,523.79 L389.97,524.91 L390.45,525.98 L390.93,527.00 L391.40,527.98 L391.88,528.92 L392.35,529.81 L392.82,530.67 L393.29,531.48 L393.76,532.25 L394.23,532.98 L394.69,533.67 L395.16,534.33 L395.62,534.95 L396.09,535.53 L396.55,536.07 L397.02,536.58 L397.48,537.05 L397.95,537.49 L398.42,537.89 L398.88,538.26 L399.35,538.59 L399.82,538.89 L400.29,539.16 L400.75,539.40 L401.22,539.60 L401.68,539.77 L402.14,539.90 L402.59,540.01 L403.04,540.08 L403.49,540.13 L403.93,540.14 L404.36,540.13 L404.78,540.09 L405.19,540.00Z"/><path d="M412.82,492.70 L412.75,492.60 L412.69,492.52 L412.63,492.43 L412.56,492.35 L412.49,492.26 L412.41,492.17 L412.32,492.07 L412.22,491.97 L412.12,491.86 L412.01,491.74 L411.90,491.61 L411.78,491.47 L411.65,491.32 L411.51,491.15 L411.37,490.98 L411.22,490.79 L411.06,490.58 L410.90,490.36 L410.73,490.12 L410.55,489.86 L410.37,489.58 L410.18,489.29 L409.98,488.97 L409.78,488.63 L409.57,488.27 L409.36,487.88 L409.14,487.47 L408.91,487.04 L408.68,486.57 L408.45,486.08 L408.21,485.57 L407.97,485.02 L407.72,484.44 L407.47,483.84 L407.22,483.20 L406.96,482.53 L406.70,481.82 L406.44,481.09 L406.18,480.31 L405.91,479.51 L405.64,478.66 L405.37,477.78 L405.10,476.86 L404.83,475.90 L404.55,474.90 L404.28,473.86 L404.01,472.78 L403.73,471.66 L403.46,470.49 L403.18,469.29 L402.91,468.03 L402.64,466.73 L402.37,465.39 L402.10,464.00 L401.83,462.56 L401.56,461.07 L401.30,459.53 L401.04,457.95 L400.78,456.31 L400.52,454.62 L400.27,452.88 L400.02,451.09 L399.77,449.24 L399.53,447.33 L399.30,445.38 L399.06,443.36 L398.83,441.29 L398.61,439.16 L398.39,436.97 L398.18,434.72 L397.97,432.42 L397.77,430.05 L397.58,427.62 L397.37,425.13 L397.18,422.57 L396.98,419.95 L396.80,417.27 L396.62,414.52 L396.46,411.69 L387.65,412.31 L387.87,415.15 L388.11,417.93 L388.35,420.65 L388.60,423.31 L388.85,425.90 L389.12,428.43 L389.40,430.89 L389.69,433.29 L389.99,435.64 L390.30,437.92 L390.61,440.14 L390.93,442.31 L391.25,444.41 L391.58,446.46 L391.91,448.46 L392.24,450.40 L392.59,452.28 L392.93,454.11 L393.28,455.89 L393.64,457.61 L393.99,459.28 L394.35,460.91 L394.72,462.48 L395.08,464.00 L395.45,465.48 L395.82,466.91 L396.20,468.29 L396.57,469.62 L396.95,470.91 L397.33,472.16 L397.71,473.36 L398.09,474.52 L398.48,475.63 L398.86,476.71 L399.24,477.74 L399.63,478.73 L400.01,479.69 L400.40,480.61 L400.78,481.48 L401.16,482.33 L401.55,483.13 L401.93,483.90 L402.31,484.64 L402.68,485.34 L403.06,486.01 L403.43,486.64 L403.81,487.25 L404.18,487.82 L404.54,488.36 L404.91,488.88 L405.27,489.36 L405.63,489.82 L405.98,490.24 L406.33,490.64 L406.68,491.02 L407.02,491.37 L407.36,491.69 L407.69,491.99 L408.01,492.27 L408.34,492.52 L408.65,492.75 L408.96,492.96 L409.26,493.15 L409.56,493.31 L409.84,493.46 L410.12,493.58 L410.40,493.69 L410.66,493.78 L410.91,493.85 L411.15,493.91 L411.39,493.95 L411.61,493.97 L411.82,493.97 L412.02,493.97 L412.20,493.95 L412.37,493.91 L412.53,493.86 L412.67,493.79 L412.78,493.70Z"/></g>
<g stroke="#4a4a7a" stroke-width="1"><line x1="207.0" y1="193.5" x2="209.3" y2="193.5"/><line x1="132.0" y1="238.4" x2="134.3" y2="238.4"/><line x1="128.1" y1="283.5" x2="130.4" y2="283.5"/><line x1="5.1" y1="357.4" x2="7.4" y2="357.4"/><line x1="34.1" y1="434.6" x2="36.4" y2="434.6"/><line x1="99.7" y1="493.1" x2="102.0" y2="493.1"/><line x1="100.7" y1="537.9" x2="103.0" y2="537.9"/><line x1="165.7" y1="582.7" x2="168.0" y2="582.7"/><line x1="524.7" y1="199.2" x2="527.0" y2="199.2"/><line x1="526.8" y1="269.7" x2="529.1" y2="269.7"/><line x1="575.4" y1="338.6" x2="577.7" y2="338.6"/><line x1="567.7" y1="386.4" x2="570.0" y2="386.4"/><line x1="646.4" y1="431.4" x2="650.8" y2="431.4"/><line x1="501.0" y1="492.9" x2="503.3" y2="492.9"/><line x1="508.0" y1="539.9" x2="510.3" y2="539.9"/><line x1="496.6" y1="598.0" x2="498.9" y2="598.0"/></g>
<g stroke="#2a2a78" stroke-width="1.2"><line x1="213.0" y1="283.3" x2="216.5" y2="283.3"/><line x1="254.1" y1="238.4" x2="257.6" y2="238.4"/><line x1="296.2" y1="193.4" x2="299.7" y2="193.4"/><line x1="396.5" y1="199.2" x2="393.0" y2="199.2"/><line x1="478.7" y1="269.5" x2="475.2" y2="269.5"/><line x1="499.6" y1="338.5" x2="496.1" y2="338.5"/><line x1="444.5" y1="386.2" x2="441.0" y2="386.2"/><line x1="482.6" y1="431.3" x2="479.1" y2="431.3"/><line x1="140.3" y1="357.0" x2="143.8" y2="357.0"/><line x1="124.6" y1="435.0" x2="128.1" y2="435.0"/><line x1="188.4" y1="493.3" x2="191.9" y2="493.3"/><line x1="190.2" y1="538.2" x2="193.7" y2="538.2"/><line x1="271.6" y1="582.5" x2="275.1" y2="582.5"/><line x1="342.8" y1="598.5" x2="339.3" y2="598.5"/><line x1="408.7" y1="539.5" x2="405.2" y2="539.5"/><line x1="416.3" y1="493.2" x2="412.8" y2="493.2"/></g>
</svg>
<div class="n" style="left:208.8px;top:181.8px;width:87.7px;height:23.4px"></div><div class="n" style="left:133.8px;top:227.0px;width:120.8px;height:22.9px"></div><div class="n" style="left:129.9px;top:271.9px;width:83.3px;height:23.2px"></div><div class="n" style="left:6.9px;top:346.2px;width:134.1px;height:22.5px"></div><div class="n" style="left:35.9px;top:423.1px;width:89.2px;height:23.0px"></div><div class="n" style="left:101.5px;top:481.5px;width:87.4px;height:23.2px"></div><div class="n" style="left:102.5px;top:526.3px;width:88.2px;height:23.2px"></div><div class="n" style="left:167.5px;top:571.2px;width:104.6px;height:23.0px"></div><div class="n" style="left:396.1px;top:187.9px;width:129.1px;height:22.7px"></div><div class="n" style="left:478.4px;top:258.5px;width:48.9px;height:22.4px"></div><div class="n" style="left:499.2px;top:327.0px;width:76.7px;height:23.2px"></div><div class="n" style="left:444.1px;top:374.8px;width:124.1px;height:23.1px"></div><div class="n" style="left:482.1px;top:419.9px;width:150.0px;height:23.1px"></div><div class="n" style="left:415.9px;top:481.7px;width:85.6px;height:22.4px"></div><div class="n" style="left:408.2px;top:528.3px;width:100.3px;height:23.2px"></div><div class="n" style="left:342.3px;top:586.5px;width:154.8px;height:23.0px"></div><div class="c" style="left:219.3px;top:390.7px;width:195.5px;height:36.2px"></div><div class="h" style="left:86.5px;top:60.5px;width:512.0px;height:28.5px"></div><div class="s" style="left:256.9px;top:97.0px;width:170.9px;height:23.2px"></div><div class="k" style="left:707.1px;top:4.5px;width:16.6px;height:17.6px"></div>
<svg width="730" height="615" viewBox="0 0 730 615" style="pointer-events:none;will-change:transform">
<g class="tx"><text x="215.35" y="197.80" font-size="14" font-weight="bold" fill="#21216a" textLength="70.61" lengthAdjust="spacingAndGlyphs">ความถูกต้อง</text><text x="140.37" y="242.75" font-size="14" font-weight="bold" fill="#21216a" textLength="102.73" lengthAdjust="spacingAndGlyphs">ความตรงพิสูจน์ได้</text><text x="137.40" y="287.80" font-size="14" font-weight="bold" fill="#21216a" textLength="64.30" lengthAdjust="spacingAndGlyphs">ปฏิบัติไม่ได้</text><text x="13.47" y="361.75" font-size="14" font-weight="bold" fill="#21216a" textLength="116.85" lengthAdjust="spacingAndGlyphs">การโมเม/ฉวยโอกาส</text><text x="42.51" y="438.90" font-size="14" font-weight="bold" fill="#21216a" textLength="71.09" lengthAdjust="spacingAndGlyphs">ความซ้ำซ้อน</text><text x="108.08" y="497.40" font-size="14" font-weight="bold" fill="#21216a" textLength="69.32" lengthAdjust="spacingAndGlyphs">ตรวจสอบได้</text><text x="109.11" y="542.20" font-size="14" font-weight="bold" fill="#21216a" textLength="70.09" lengthAdjust="spacingAndGlyphs">การวิเคราะห์</text><text x="175.93" y="587.00" font-size="14" font-weight="bold" fill="#21216a" textLength="85.60" lengthAdjust="spacingAndGlyphs">ไม่สมเหตุสมผล</text><text x="402.67" y="203.55" font-size="14" font-weight="bold" fill="#21216a" textLength="111.97" lengthAdjust="spacingAndGlyphs">รับไว้เป็นของตนเอง</text><text x="485.90" y="274.00" font-size="14" font-weight="bold" fill="#21216a" textLength="30.81" lengthAdjust="spacingAndGlyphs">ใช้ผิด</text><text x="506.70" y="342.90" font-size="14" font-weight="bold" fill="#21216a" textLength="57.70" lengthAdjust="spacingAndGlyphs">หลักทฤษฎี</text><text x="450.68" y="390.65" font-size="14" font-weight="bold" fill="#21216a" textLength="106.84" lengthAdjust="spacingAndGlyphs">ลักขโมย/คัดลอกมา</text><text x="489.60" y="435.75" font-size="14" font-weight="bold" fill="#21216a" textLength="131.00" lengthAdjust="spacingAndGlyphs">หลักฐานที่ปรากฏชัดเจน</text><text x="422.47" y="497.20" font-size="14" font-weight="bold" fill="#21216a" textLength="68.45" lengthAdjust="spacingAndGlyphs">การประยุกต์</text><text x="414.78" y="544.20" font-size="14" font-weight="bold" fill="#21216a" textLength="82.22" lengthAdjust="spacingAndGlyphs">ความเชื่อถือได้</text><text x="348.88" y="602.30" font-size="14" font-weight="bold" fill="#21216a" textLength="137.65" lengthAdjust="spacingAndGlyphs">การดัดแปลงให้เหมาะสม</text><text x="234.00" y="413.90" font-size="14.5" font-weight="bold" fill="#1a1a66" textLength="165.88" lengthAdjust="spacingAndGlyphs">หลักการ/สิ่งที่ต้องคำนึงถึง</text><text x="93.50" y="81.70" font-size="19" font-weight="normal" fill="#34348c" stroke="#34348c" stroke-width="0.3" textLength="496.00" lengthAdjust="spacingAndGlyphs">โครงการเสริมสร้างและพัฒนาบุคลากรสู่ตำแหน่งชำนาญการ</text><text x="262.00" y="113.60" font-size="14" font-weight="normal" fill="#34348c" stroke="#34348c" stroke-width="0.3" textLength="158.83" lengthAdjust="spacingAndGlyphs">โดย ผศ.สมศักดิ์  วิราพร</text><text x="710.12" y="17.05" font-size="10.5" font-weight="bold" fill="#22226c" textLength="5.73" lengthAdjust="spacingAndGlyphs">3</text></g>
<!-- word icon -->
<g>
<rect x="419.5" y="410.8" width="9.8" height="11.5" fill="#cfe0f4" stroke="#6f86b0" stroke-width="0.8"/>
<rect x="416.8" y="411.2" width="7.6" height="7.4" fill="#b9cff0" stroke="#7f96c0" stroke-width="0.8"/>
<path d="M417.8,413.2 L419.2,417.4 L420.4,414.6 L421.6,417.4 L423.2,413.2" fill="none" stroke="#203880" stroke-width="1.1"/>
</g>
<!-- map icon -->
<defs><radialGradient id="bg" cx="0.4" cy="0.35" r="0.7"><stop offset="0" stop-color="#5aa8f0"/><stop offset="1" stop-color="#1258b8"/></radialGradient></defs>
<g>
<line x1="631.6" y1="431.4" x2="633.6" y2="431.4" stroke="#3d3d7a" stroke-width="0.9"/>
<rect x="633.6" y="426" width="7" height="11.4" fill="#f4f7fb" stroke="#bcc6d6" stroke-width="0.7"/>
<line x1="633.8" y1="429.2" x2="640.4" y2="429.2" stroke="#d4dbe6" stroke-width="0.6"/>
<line x1="633.8" y1="434.3" x2="640.4" y2="434.3" stroke="#d4dbe6" stroke-width="0.6"/>
<path d="M634.2,430 L637.4,430 L641.6,426.6 L643.4,429.4 L639.2,431.4 L643.4,433.6 L641.6,436.4 L637.4,432.8 L634.2,432.8 Z" fill="#6cb0ec"/>
<circle cx="643.4" cy="428" r="2.9" fill="url(#bg)"/>
<circle cx="643.6" cy="435.4" r="2.9" fill="url(#bg)"/>
</g>
</svg>
</body></html>
